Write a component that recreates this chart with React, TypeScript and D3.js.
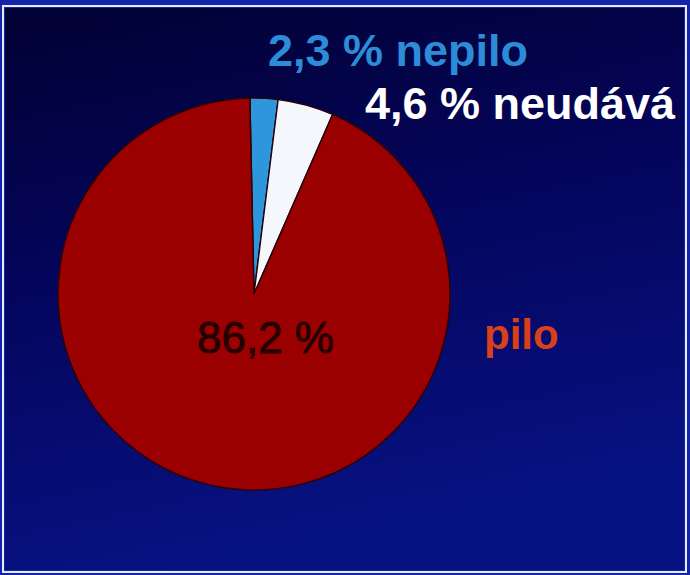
import React from "react";
import * as d3 from "d3";

const categories = ["nepilo", "neudává", "pilo"];
const sliceValues = [2.3, 4.6, 93.1];
const labelTexts = ["2,3 % nepilo", "4,6 % neudává", "pilo"];
const innerLabel = "86,2 %";
const sliceColors = ["#2f96dc", "#f4f8fc", "#9a0000"];

const W = 690;
const H = 575;
const cx = 254;
const cy = 294;
const R = 196;

export default function App() {
  const pie = d3
    .pie<number>()
    .sort(null)
    .startAngle(-0.021)
    .endAngle(-0.021 + Math.PI * 2);
  const arcs = pie(sliceValues);
  const arc = d3.arc<d3.PieArcDatum<number>>().innerRadius(0).outerRadius(R);

  const font = "'Liberation Sans', Arial, sans-serif";

  return (
    <svg
      width={W}
      height={H}
      style={{ position: "absolute", left: 0, top: 0, display: "block" }}
    >
      <defs>
        <linearGradient id="bg" x1="0" y1="0" x2="0.25" y2="1">
          <stop offset="0%" stopColor="#020234" />
          <stop offset="45%" stopColor="#04045a" />
          <stop offset="100%" stopColor="#071282" />
        </linearGradient>
        <filter id="soft" x="-5%" y="-5%" width="110%" height="110%">
          <feGaussianBlur stdDeviation="0.6" />
        </filter>
      </defs>
      <rect x={0} y={0} width={W} height={H} fill="#1424a8" />
      <rect x={3} y={6} width={W - 7} height={H - 9} fill="none" stroke="#e8ecff" strokeWidth={2} />
      <rect x={5} y={8} width={W - 11} height={H - 13} fill="url(#bg)" />

      <g transform={`translate(${cx},${cy})`} filter="url(#soft)">
        {arcs.map((a, i) => (
          <path
            key={categories[i]}
            d={arc(a) || ""}
            fill={sliceColors[i]}
            stroke="#2a0008"
            strokeWidth={1.4}
            strokeLinejoin="round"
          />
        ))}
      </g>

      <text
        x={268}
        y={66}
        fill="#2c8cd8"
        fontFamily={font}
        fontWeight="bold"
        fontSize={45}
      >
        {labelTexts[0]}
      </text>
      <text
        x={365}
        y={119}
        fill="#ffffff"
        fontFamily={font}
        fontWeight="bold"
        fontSize={45}
      >
        {labelTexts[1]}
      </text>
      <text
        x={484}
        y={349}
        fill="#d8401c"
        fontFamily={font}
        fontWeight="bold"
        fontSize={42}
      >
        {labelTexts[2]}
      </text>
      <text
        x={197}
        y={353}
        fill="#250003"
        stroke="#250003"
        strokeWidth={0.8}
        fontFamily={font}
        fontSize={44}
      >
        {innerLabel}
      </text>
    </svg>
  );
}
